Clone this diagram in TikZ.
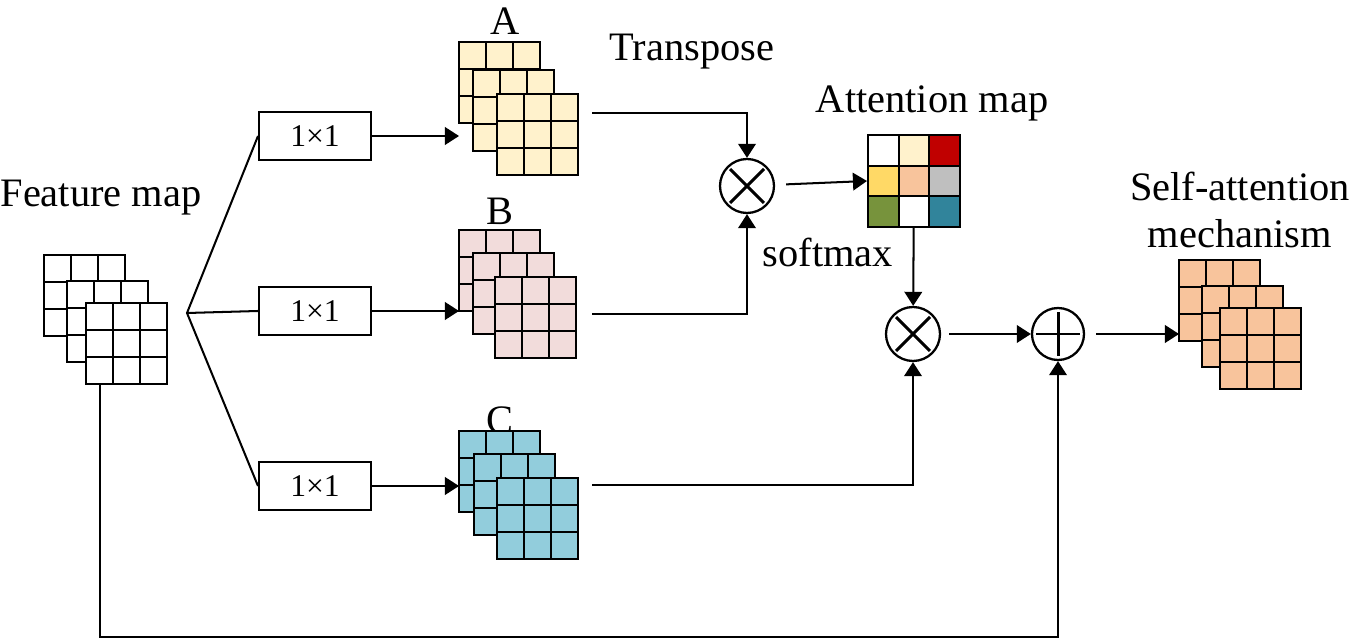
\documentclass[tikz,border=0pt]{standalone}
\usepackage{fontspec}
\setmainfont{Liberation Serif}
\usetikzlibrary{arrows.meta,positioning}

\definecolor{fmcream}{HTML}{FFF2CC}
\definecolor{fmpink}{HTML}{F2DCDB}
\definecolor{fmblue}{HTML}{92CDDC}
\definecolor{fmpeach}{HTML}{F8C49C}
\definecolor{atyellow}{HTML}{FFD966}
\definecolor{atred}{HTML}{C00000}
\definecolor{atgrey}{HTML}{BFBFBF}
\definecolor{atgreen}{HTML}{77933C}
\definecolor{atteal}{HTML}{31849B}

\tikzset{
  grid3/.style={path picture={
    \foreach \k in {1,2}{
      \draw[line width=1.1pt] ([xshift=\k*#1]path picture bounding box.north west)
        -- ([xshift=\k*#1]path picture bounding box.south west);
      \draw[line width=1.1pt] ([yshift=-\k*#1]path picture bounding box.north west)
        -- ([yshift=-\k*#1]path picture bounding box.north east);
    }}},
  layer/.style={draw, minimum size=1.62cm, inner sep=0pt, outer sep=0pt, grid3=0.54cm},
  convbox/.style={draw, minimum width=2.24cm, minimum height=0.96cm, inner sep=0pt,
    font=\fontsize{18}{20}\selectfont},
  lbl/.style={font=\fontsize{23}{27}\selectfont, anchor=base, inner sep=0pt},
  mul/.style={circle, draw, line width=1.3pt, minimum size=1.08cm, inner sep=0pt,
    path picture={
      \draw[line width=1.7pt] ([shift={(-0.34cm,-0.34cm)}]path picture bounding box.center)
        -- ([shift={(0.34cm,0.34cm)}]path picture bounding box.center);
      \draw[line width=1.7pt] ([shift={(-0.34cm,0.34cm)}]path picture bounding box.center)
        -- ([shift={(0.34cm,-0.34cm)}]path picture bounding box.center);
    }},
  addop/.style={circle, draw, line width=1.3pt, minimum size=1.04cm, inner sep=0pt,
    path picture={
      \draw[line width=1.7pt] ([yshift=0.44cm]path picture bounding box.center)
        -- ([yshift=-0.44cm]path picture bounding box.center);
      \draw[line width=1.7pt] ([xshift=-0.44cm]path picture bounding box.center)
        -- ([xshift=0.44cm]path picture bounding box.center);
    }}
}

% three stacked 3x3 layers: name, colour, centres of the layers
\newcommand{\cubestack}[5]{%
  \node[layer, fill=#2] (#11) at (#3) {};
  \node[layer, fill=#2] (#12) at (#4) {};
  \node[layer, fill=#2] (#13) at (#5) {};
}

\begin{document}
\begin{tikzpicture}[x=0.02cm, y=-0.02cm, line width=1.15pt,
    >={Triangle[length=8pt,width=10pt]}]
  \useasboundingbox (0,0) rectangle (1356,641);

  % labels
  \node[lbl] (fmlabel) at (101,207) {Feature map};
  \node[lbl] (alabel) at (505,35) {A};
  \node[lbl] (blabel) at (500,225) {B};
  \node[lbl] (clabel) at (500,434) {C};
  \node[lbl] (tplabel) at (692,61) {Transpose};
  \node[lbl] (attlabel) at (932,113) {Attention map};
  \node[lbl] (smlabel) at (828,267) {softmax};
  \node[lbl, align=center] (salabel) at (1240,248) {Self-attention\\mechanism};

  % feature stacks
  \cubestack{F}{white}{84.5,295.5}{107.5,321.5}{126.5,343.5}
  \cubestack{A}{fmcream}{499.5,82.5}{513.5,110.5}{537.5,134.5}
  \cubestack{B}{fmpink}{499.5,270.5}{513.5,293.5}{535.5,317.5}
  \cubestack{C}{fmblue}{499.5,471.5}{514.5,494.5}{537.5,518.5}
  \cubestack{S}{fmpeach}{1219.5,300.5}{1242.5,326.5}{1260.5,348.5}

  % attention map
  \foreach \col [count=\i from 0] in
      {white,fmcream,atred,atyellow,fmpeach,atgrey,atgreen,white,atteal}{
    \pgfmathtruncatemacro\ar{\i/3}
    \pgfmathtruncatemacro\ac{mod(\i,3)}
    \fill[\col] (868+\ac*30.67,135+\ar*30.67) rectangle ++(30.67,30.67);
  }
  \node[draw, minimum size=1.84cm, inner sep=0pt, grid3=0.6133cm] (att) at (914,181) {};

  % 1x1 convolutions
  \node[convbox] (conv1) at (315,136) {1×1};
  \node[convbox] (conv2) at (315,311) {1×1};
  \node[convbox] (conv3) at (315,486) {1×1};

  % operators
  \node[mul] (mul1) at (747,186) {};
  \node[mul] (mul2) at (913,334) {};
  \node[addop] (sum) at (1058,334) {};

  % connectors
  \coordinate (split) at (187,313);
  \draw (conv1.west) -- (split) -- (conv3.west);
  \draw (split) -- (conv2.west);
  \draw[->] (conv1.east) -- (conv1.east -| A1.west);
  \draw[->] (conv2.east) -- (conv2.east -| B1.west);
  \draw[->] (conv3.east) -- (conv3.east -| C1.west);

  \coordinate (Aout) at (592,113);
  \coordinate (Bout) at (592,314);
  \coordinate (Cout) at (592,485);
  \draw[->] (Aout) -| (mul1);
  \draw[->] (Bout) -| (mul1);
  \draw[->] (Cout) -| (mul2);
  \draw[->, shorten <=0.22cm] (mul1) -- (att.west);
  \draw[->] (att) -- (mul2);
  \draw[->, shorten <=0.16cm] (mul2) -- (sum);
  \draw[->, shorten <=0.22cm] (sum.east) -- (sum.east -| S1.west);
  \draw[->] ([xshift=0.28cm]F3.south west) -- ++(0,253) -| (sum);
\end{tikzpicture}
\end{document}
